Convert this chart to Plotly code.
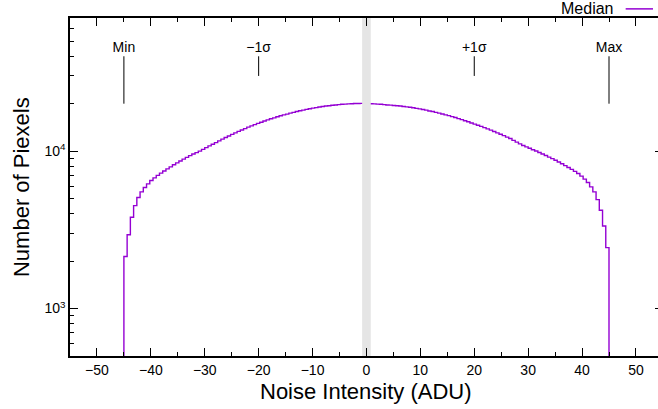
import math
import plotly.graph_objects as go

# ---------------- data ----------------
bin_start = -45.0
bin_width = 0.6
counts = [
    2143, 2944, 3802, 4508, 5070, 5508, 5875, 6194, 6501, 6761,
    7014, 7244, 7481, 7708, 7943, 8184, 8414, 8649, 8892, 9120,
    9354, 9594, 9772, 10000, 10257, 10519, 10789, 11041, 11324, 11615,
    11912, 12190, 12474, 12764, 13061, 13336, 13615, 13899, 14190, 14454,
    14723, 14997, 15240, 15524, 15776, 16033, 16255, 16520, 16750, 16982,
    17179, 17418, 17620, 17824, 18030, 18197, 18408, 18578, 18750, 18880,
    19055, 19186, 19320, 19409, 19543, 19633, 19724, 19816, 19862, 19953,
    19999, 20045, 20045, 20091, 20091,
    20045, 19999, 19953, 19862, 19816, 19724, 19633, 19588, 19498, 19409,
    19320, 19186, 19099, 18968, 18837, 18664, 18536, 18366, 18197, 17989,
    17824, 17620, 17418, 17218, 16982, 16789, 16558, 16330, 16069, 15849,
    15595, 15346, 15067, 14825, 14588, 14354, 14093, 13836, 13583, 13306,
    13061, 12793, 12531, 12275, 12023, 11695, 11403, 11117, 10864, 10642,
    10423, 10209, 10023, 9795, 9594, 9375, 9162, 8954, 8750, 8531,
    8318, 8091, 7870, 7656, 7430, 7211, 6934, 6637, 6324, 5929,
    5508, 4920, 4207, 3342, 2438,
]
outside_count = 100  # below the visible range

marker_labels = ["Min", "\u22121\u03c3", "+1\u03c3", "Max"]
marker_x = [-45, -20, 20, 45]
marker_low = [20000, 30000, 30000, 20000]
marker_high = [40000, 40000, 40000, 40000]
label_y = 44700

band_lo, band_hi = -0.8, 0.8

x_tick_vals = [-50, -40, -30, -20, -10, 0, 10, 20, 30, 40, 50]
y_tick_vals = [1000, 10000]
y_tick_text = ["10<sup>3</sup>", "10<sup>4</sup>"]
y_minor_vals = [600, 700, 800, 900, 2000, 3000, 4000, 5000, 6000, 7000, 8000, 9000,
                20000, 30000, 40000, 50000, 60000]

x_range = [-55, 54.09]
y_min, y_max = 500, 70000

PURPLE = "#9400d3"
FONT = "Liberation Sans, Arial, Helvetica, sans-serif"

# ---------------- build ----------------
edges = [bin_start + bin_width * i for i in range(len(counts) + 1)]
xs = [edges[0]] + edges[:-1] + [edges[-1], edges[-1]]
ys = [outside_count] + counts + [counts[-1], outside_count]

fig = go.Figure()
fig.add_trace(go.Scatter(x=xs, y=ys, mode="lines", line=dict(color=PURPLE, width=1.4, shape="hv"),
                         name="Median", showlegend=False, hoverinfo="skip"))

# gray band at zero (drawn over the histogram)
fig.add_trace(go.Scatter(x=[band_lo, band_hi, band_hi, band_lo, band_lo],
                         y=[10, 10, 1e6, 1e6, 10], mode="lines", fill="toself",
                         fillcolor="#e5e5e5", line=dict(width=0), showlegend=False, hoverinfo="skip"))

# marker lines
mx, my = [], []
for x, lo, hi in zip(marker_x, marker_low, marker_high):
    mx += [x, x, None]
    my += [lo, hi, None]
fig.add_trace(go.Scatter(x=mx, y=my, mode="lines", line=dict(color="black", width=1),
                         showlegend=False, hoverinfo="skip"))
fig.add_trace(go.Scatter(x=marker_x, y=[label_y] * len(marker_x), mode="text", text=marker_labels,
                         textposition="middle center", textfont=dict(size=14, color="black", family=FONT),
                         showlegend=False, hoverinfo="skip"))

# dummy traces to activate mirror axes
fig.add_trace(go.Scatter(x=[0], y=[1000], xaxis="x2", mode="markers", marker=dict(opacity=0),
                         showlegend=False, hoverinfo="skip"))
fig.add_trace(go.Scatter(x=[0], y=[1000], yaxis="y2", mode="markers", marker=dict(opacity=0),
                         showlegend=False, hoverinfo="skip"))

axis_common = dict(showgrid=False, zeroline=False, linecolor="black", ticks="inside",
                   tickcolor="black", tickwidth=1, ticklen=8, automargin=False)
yr = [math.log10(y_min), math.log10(y_max)]

fig.update_layout(
    width=658, height=409,
    margin=dict(l=70, r=0, t=18, b=53, autoexpand=False),
    paper_bgcolor="white", plot_bgcolor="white",
    font=dict(family=FONT, size=14, color="black"),
    xaxis=dict(range=x_range, tickvals=x_tick_vals, showline=True, linewidth=1.5,
               minor=dict(dtick=5, tick0=0, ticks="inside", ticklen=4, tickcolor="black"),
               tickfont=dict(size=14), **axis_common),
    xaxis2=dict(range=x_range, overlaying="x", side="top", anchor="y", tickvals=x_tick_vals,
                showticklabels=False, showline=True, linewidth=1.5,
                minor=dict(dtick=5, tick0=0, ticks="inside", ticklen=4, tickcolor="black"),
                **axis_common),
    yaxis=dict(type="log", range=yr, tickvals=y_tick_vals, ticktext=y_tick_text,
               showline=True, linewidth=1.5, tickfont=dict(size=14),
               minor=dict(tickvals=y_minor_vals, ticks="inside", ticklen=4, tickcolor="black"),
               **axis_common),
    yaxis2=dict(type="log", range=yr, overlaying="y", side="right", anchor="x",
                tickvals=y_tick_vals, showticklabels=False, showline=False, showgrid=False,
                zeroline=False, ticks="inside", ticklen=3, tickcolor="black", automargin=False),
    showlegend=False,
)

fig.add_annotation(text="Noise Intensity (ADU)", xref="x", x=0, yref="paper", y=-0.1036,
                   xanchor="center", yanchor="middle", showarrow=False, font=dict(size=22))
fig.add_annotation(text="Number of Piexels", xref="paper", x=-0.0833, yref="paper", y=0.5,
                   xanchor="center", yanchor="middle", textangle=-90, showarrow=False, font=dict(size=22))

# legend (text left of sample line)
fig.add_annotation(text="Median", xref="paper", x=0.927, yref="paper", y=1.027,
                   xanchor="right", yanchor="middle", showarrow=False, font=dict(size=16))
fig.add_shape(type="line", xref="paper", yref="paper", x0=0.945, x1=0.9915, y0=1.027, y1=1.027,
              line=dict(color=PURPLE, width=1.5))

fig.write_html("out.html", config={"displayModeBar": False},
               post_script="document.body.style.margin='0';document.body.style.overflow='hidden';")
